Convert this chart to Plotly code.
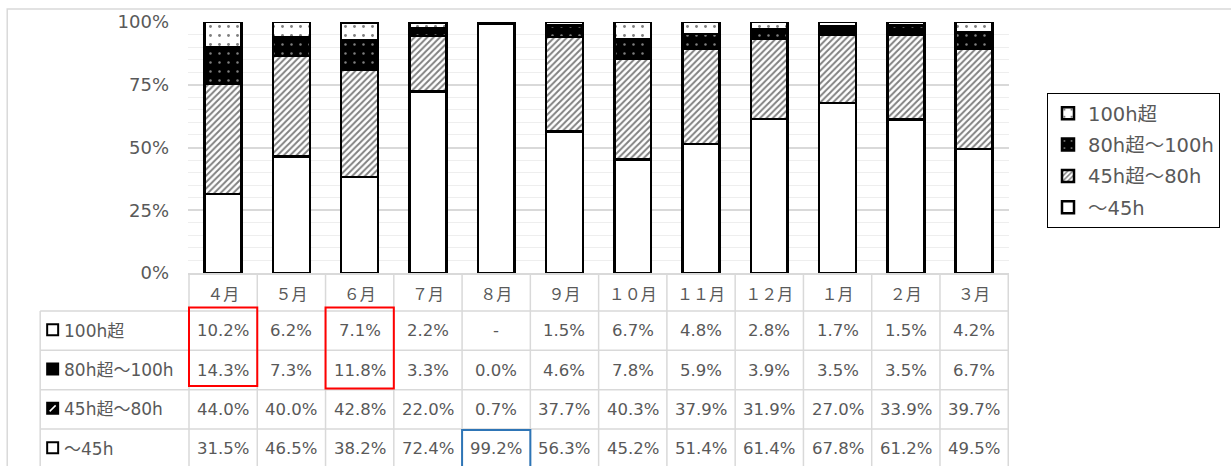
import plotly.graph_objects as go

# ---------------- data ----------------
months = ["４月", "５月", "６月", "７月", "８月", "９月", "１０月", "１１月", "１２月", "１月", "２月", "３月"]
series_names = ["～45h", "45h超～80h", "80h超～100h", "100h超"]  # bottom -> top
v_le45 = [31.5, 46.5, 38.2, 72.4, 99.2, 56.3, 45.2, 51.4, 61.4, 67.8, 61.2, 49.5]
v_45_80 = [44.0, 40.0, 42.8, 22.0, 0.7, 37.7, 40.3, 37.9, 31.9, 27.0, 33.9, 39.7]
v_80_100 = [14.3, 7.3, 11.8, 3.3, 0.0, 4.6, 7.8, 5.9, 3.9, 3.5, 3.5, 6.7]
v_100 = [10.2, 6.2, 7.1, 2.2, None, 1.5, 6.7, 4.8, 2.8, 1.7, 1.5, 4.2]
series_values = [v_le45, v_45_80, v_80_100, v_100]
y_ticks = [0, 25, 50, 75, 100]
y_ticktext = [f"{t}%" for t in y_ticks]

# ---------------- geometry helpers ----------------
W, H = 1231, 466
PL, PR, PT, PB = 188, 1010, 22, 273
def px(X):
    return (X - PL) / (PR - PL)
def py(Y):
    return (PB - Y) / (PB - PT)

GRAY_TXT = "#595959"
GRID = "#d9d9d9"
FONT = "DejaVu Sans, Noto Sans CJK JP, sans-serif"

styles = [
    dict(color="white", pattern=dict(shape="")),
    dict(color="white", pattern=dict(shape="/", fgcolor="black", bgcolor="white", size=4.5, solidity=0.42)),
    dict(color="black", pattern=dict(shape=".", fgcolor="white", bgcolor="black", size=9, solidity=0.06)),
    dict(color="white", pattern=dict(shape=".", fgcolor="black", bgcolor="white", size=9, solidity=0.08)),
]

fig = go.Figure()
n = len(series_names)
for k, (name, vals, st) in enumerate(zip(series_names, series_values, styles)):
    fig.add_trace(go.Bar(
        x=months, y=[v if v is not None else 0 for v in vals], name=name,
        legendgroup=name, legendrank=n - k,
        width=0.54,
        marker=dict(color=st["color"], pattern=st["pattern"], line=dict(color="black", width=2.5)),
        hoverinfo="x+y+name",
    ))

shapes = []
annotations = []

# outer chart border
shapes.append(dict(type="rect", xref="paper", yref="paper", x0=px(7), x1=px(1245), y0=py(9), y1=py(490),
                   line=dict(color=GRID, width=1.5), fillcolor="rgba(0,0,0,0)", layer="below"))

# ---------------- data table ----------------
row_lines = [311, 350.3, 389.7, 429, 468.3]
row_centers = [(row_lines[k] + row_lines[k + 1]) / 2 for k in range(4)]
table_rows = list(reversed(list(zip(series_names, series_values))))  # top row = 100h超

for Yl in row_lines:
    shapes.append(dict(type="line", xref="paper", yref="paper", x0=px(40), x1=1.0, y0=py(Yl), y1=py(Yl),
                       line=dict(color=GRID, width=1.5)))
for i in range(len(months) + 1):
    shapes.append(dict(type="line", xref="x", yref="paper", x0=i - 0.5, x1=i - 0.5, y0=0, y1=py(490),
                       line=dict(color=GRID, width=1.5)))
shapes.append(dict(type="line", xref="paper", yref="paper", x0=px(40), x1=px(40), y0=py(row_lines[0]), y1=py(490),
                   line=dict(color=GRID, width=1.5)))

for r, (name, vals) in enumerate(table_rows):
    yc = py(row_centers[r])
    for i, v in enumerate(vals):
        txt = "-" if v is None else f"{v:.1f}%"
        annotations.append(dict(xref="x", yref="paper", x=months[i], y=yc, text=txt, showarrow=False,
                                font=dict(size=16.5, color=GRAY_TXT, family=FONT), xanchor="center", yanchor="middle"))
    annotations.append(dict(xref="paper", yref="paper", x=px(62), y=yc, text=name, showarrow=False,
                            font=dict(size=17, color=GRAY_TXT, family=FONT), xanchor="left", yanchor="middle"))
    # small legend-key icon
    ic = row_centers[r] - 1
    s = 5.5
    fill = "black" if name in ("80h超～100h", "45h超～80h") else "white"
    shapes.append(dict(type="rect", xref="paper", yref="paper", x0=px(52.5 - s), x1=px(52.5 + s),
                       y0=py(ic - s), y1=py(ic + s), fillcolor=fill, line=dict(color="black", width=2)))
    if name == "45h超～80h":
        shapes.append(dict(type="line", xref="paper", yref="paper", x0=px(49.5), x1=px(55.5),
                           y0=py(ic + 3), y1=py(ic - 3), line=dict(color="white", width=1.5)))

# highlight boxes
def box(col, Y0, Y1, color):
    shapes.append(dict(type="rect", xref="x", yref="paper", x0=col - 0.5, x1=col + 0.5,
                       y0=py(Y0), y1=py(Y1), line=dict(color=color, width=2), fillcolor="rgba(0,0,0,0)"))
box(0, 307.5, 386, "#ff0000")
box(2, 307.5, 388.5, "#ff0000")
box(4, 430, 480, "#2e75b6")

fig.update_layout(
    width=W, height=H,
    margin=dict(l=PL, r=W - PR, t=PT, b=H - PB, pad=0),
    paper_bgcolor="white", plot_bgcolor="white",
    barmode="stack", bargap=0.46,
    font=dict(family=FONT, color=GRAY_TXT),
    showlegend=True,
    legend=dict(x=px(1047), y=py(93), xanchor="left", yanchor="top", traceorder="grouped",
                tracegroupgap=3,
                bordercolor="black", borderwidth=1, bgcolor="white",
                font=dict(size=19.5, color=GRAY_TXT, family=FONT), itemwidth=30),
    shapes=shapes, annotations=annotations,
)
fig.update_xaxes(type="category", showline=True, linecolor=GRID, linewidth=1.5, ticks="",
                 tickfont=dict(size=16, color=GRAY_TXT, family=FONT), ticklabelstandoff=6,
                 showgrid=False, fixedrange=True)
fig.update_yaxes(range=[0, 100], tickmode="array", tickvals=y_ticks, ticktext=y_ticktext,
                 showline=False, zeroline=False,
                 gridcolor=GRID, gridwidth=1.5,
                 minor=dict(dtick=5, showgrid=True, gridcolor="#eeeeee", gridwidth=1),
                 tickfont=dict(size=18, color=GRAY_TXT, family=FONT), ticklabelstandoff=18, fixedrange=True)

fig.write_html("out.html", config={"displayModeBar": False},
               post_script="document.body.style.margin='0';")
